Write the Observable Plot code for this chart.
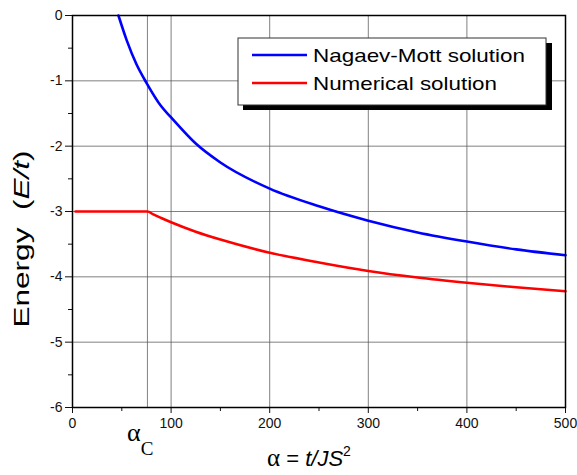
<!DOCTYPE html>
<html><head><meta charset="utf-8">
<script src="https://cdn.jsdelivr.net/npm/d3@7"></script>
<script src="https://cdn.jsdelivr.net/npm/@observablehq/plot@0.6"></script>
<style>body{margin:0;background:#fff} svg{display:block}</style>
</head><body><div id="chart"></div>
<script>
const alphaC = 76;
const mottAlpha  = [46.6, 55, 65, 75, 90, 100, 125, 150, 200, 250, 300, 350, 400, 450, 500];
const mottEnergy = [0, -0.38, -0.75, -1.03, -1.39, -1.56, -1.96, -2.25, -2.65, -2.92, -3.14, -3.32, -3.46, -3.58, -3.67];
const numAlpha   = [3, 40, 76, 82, 90, 100, 125, 150, 200, 250, 300, 350, 400, 450, 500];
const numEnergy  = [-3, -3, -3, -3.045, -3.1, -3.165, -3.31, -3.43, -3.63, -3.78, -3.91, -4.01, -4.09, -4.16, -4.22];
const xMajor = [0, 100, 200, 300, 400, 500];
const xMinor = [50, 150, 250, 350, 450];
const yMajor = [-6, -5, -4, -3, -2, -1, 0];
const yMinor = [-5.5, -4.5, -3.5, -2.5, -1.5, -0.5];
const xGrid = [alphaC, 100, 200, 300, 400];
const yGrid = [-5, -4, -3, -2, -1];
const seriesNames = ["Nagaev-Mott solution", "Numerical solution"];
const seriesColors = ["#0000ff", "#ff0000"];

const data = [
  ...mottAlpha.map((a, i) => ({alpha: a, energy: mottEnergy[i], series: seriesNames[0]})),
  ...numAlpha.map((a, i) => ({alpha: a, energy: numEnergy[i], series: seriesNames[1]}))
];

const plot = Plot.plot({
  width: 577, height: 475,
  marginTop: 15, marginRight: 12, marginBottom: 68, marginLeft: 72,
  style: {fontFamily: "'Liberation Sans', Arial, sans-serif", fontSize: "14px", color: "#111", background: "#fff"},
  x: {domain: [0, 500]},
  y: {domain: [-6, 0]},
  color: {domain: seriesNames, range: seriesColors},
  marks: [
    Plot.gridX(xGrid, {stroke: "#555", strokeOpacity: 0.75, strokeWidth: 1}),
    Plot.gridY(yGrid, {stroke: "#555", strokeOpacity: 0.75, strokeWidth: 1}),
    Plot.axisX(xMinor, {tickSize: 4, tickFormat: () => "", label: null}),
    Plot.axisX(xMajor, {tickSize: 6, tickPadding: 5, tickFormat: d => String(d), label: null}),
    Plot.axisY(yMinor, {tickSize: 4, tickFormat: () => "", label: null}),
    Plot.axisY(yMajor, {tickSize: 7, tickPadding: 3, tickFormat: d => String(d), label: null}),
    Plot.line(data, {x: "alpha", y: "energy", stroke: "series", strokeWidth: 2.6, curve: "monotone-x"}),
    Plot.frame({stroke: "#000", strokeWidth: 1.5})
  ]
});

const svg = d3.select(plot);
const sans = "'Liberation Sans', Arial, sans-serif";
const serif = "'Liberation Serif', 'Times New Roman', serif";

// y title
const yt = svg.append("text")
  .attr("transform", "translate(29,239) rotate(-90)")
  .attr("text-anchor", "middle")
  .attr("font-family", sans).attr("font-size", 22).attr("fill", "#000")
  .attr("textLength", 177).attr("lengthAdjust", "spacingAndGlyphs");
yt.append("tspan").text("Energy\u00a0\u00a0(");
yt.append("tspan").attr("font-style", "italic").text("E/t");
yt.append("tspan").text(")");

// x title
const xt = svg.append("text")
  .attr("x", 267).attr("y", 466)
  .attr("text-anchor", "start")
  .attr("font-family", sans).attr("font-size", 22).attr("fill", "#000");
xt.append("tspan").attr("font-family", serif).attr("font-size", 25).text("α");
xt.append("tspan").text(" = ");
xt.append("tspan").attr("font-style", "italic").text("t/JS");
xt.append("tspan").attr("font-size", 14).attr("dy", -10).text("2");

// alpha_C label
const ac = svg.append("text")
  .attr("x", 127).attr("y", 441)
  .attr("text-anchor", "start")
  .attr("font-family", serif).attr("font-size", 26).attr("fill", "#000");
ac.append("tspan").text("α");
ac.append("tspan").attr("font-size", 19).attr("dy", 14).text("C");

// legend
const lg = svg.append("g");
lg.append("rect").attr("x", 243).attr("y", 43).attr("width", 309).attr("height", 67).attr("fill", "#000");
lg.append("rect").attr("x", 238).attr("y", 38).attr("width", 308).attr("height", 67)
  .attr("fill", "#fff").attr("stroke", "#333").attr("stroke-width", 1);
const legY = [55, 83];
const legW = [212, 184];
seriesNames.forEach((name, i) => {
  lg.append("line").attr("x1", 252).attr("x2", 307).attr("y1", legY[i]).attr("y2", legY[i])
    .attr("stroke", seriesColors[i]).attr("stroke-width", 2.6);
  lg.append("text").attr("x", 313).attr("y", legY[i] + 7)
    .attr("text-anchor", "start")
    .attr("font-family", sans).attr("font-size", 19).attr("fill", "#000")
    .attr("textLength", legW[i]).attr("lengthAdjust", "spacingAndGlyphs")
    .text(name);
});

document.getElementById("chart").appendChild(plot);
</script>
</body></html>
